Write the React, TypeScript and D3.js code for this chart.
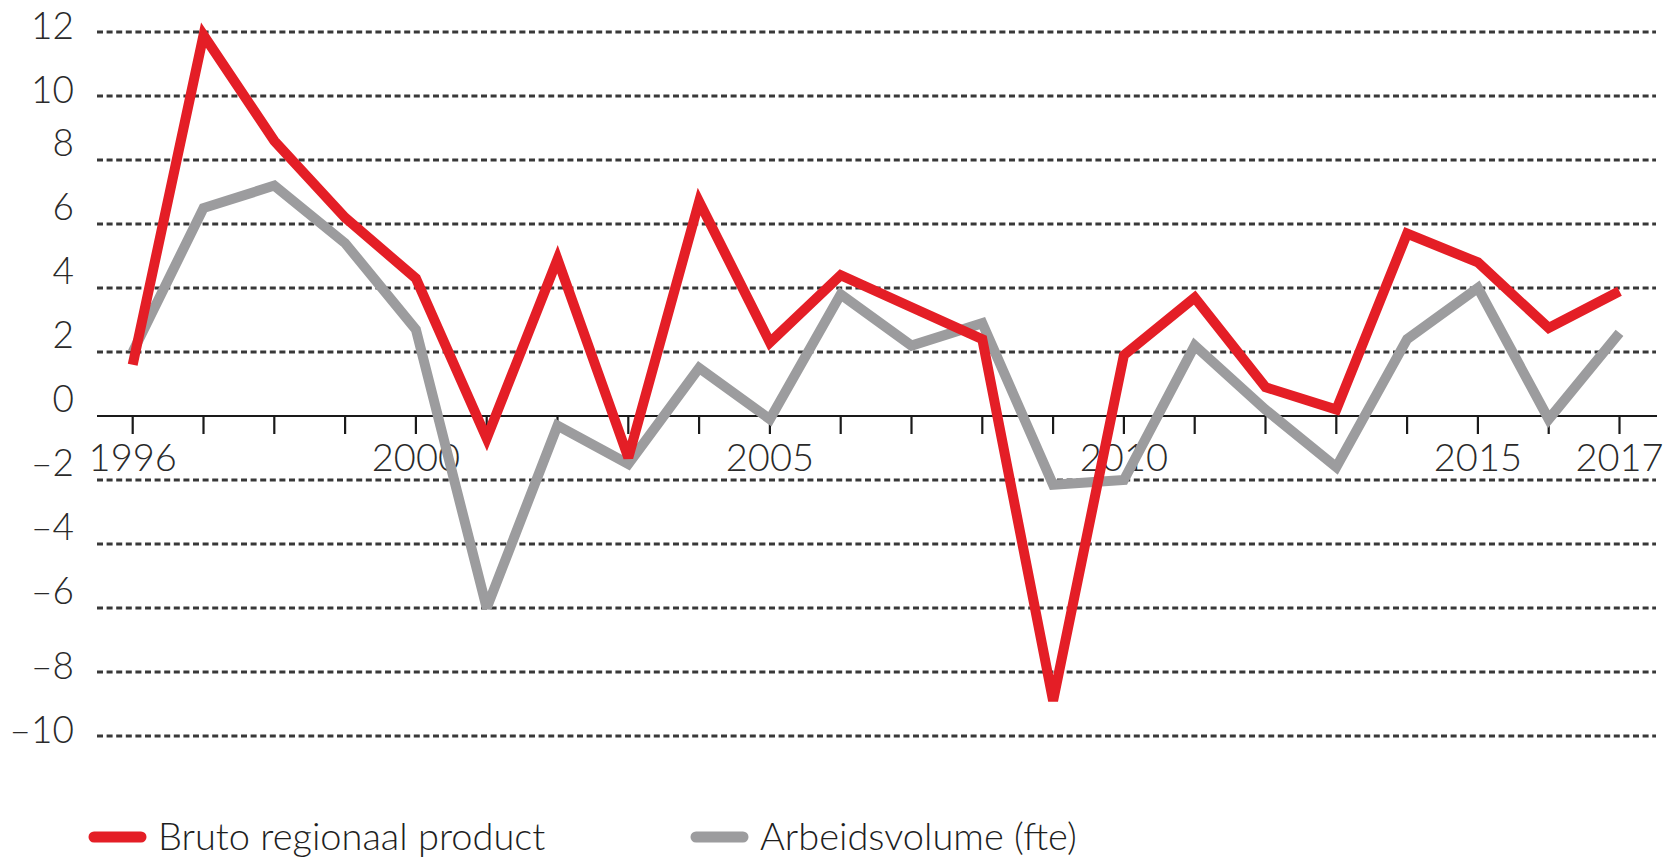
import React, { useEffect, useRef } from 'react';
import * as d3 from 'd3';

const years = [1996, 1997, 1998, 1999, 2000, 2001, 2002, 2003, 2004, 2005, 2006, 2007, 2008, 2009, 2010, 2011, 2012, 2013, 2014, 2015, 2016, 2017];
const brutoRegionaalProduct = [1.6, 11.9, 8.6, 6.2, 4.3, -0.7, 4.9, -1.3, 6.7, 2.3, 4.4, 3.4, 2.4, -8.9, 1.9, 3.7, 0.9, 0.2, 5.7, 4.8, 2.75, 3.9];
const arbeidsvolume = [2.0, 6.5, 7.2, 5.4, 2.7, -6.0, -0.3, -1.5, 1.5, -0.1, 3.8, 2.2, 2.9, -2.15, -2.0, 2.2, 0.2, -1.6, 2.4, 4.0, -0.1, 2.6];
const yTicks = [12, 10, 8, 6, 4, 2, 0, -2, -4, -6, -8, -10];
const xLabels = [1996, 2000, 2005, 2010, 2015, 2017];
const seriesNames = ['Bruto regionaal product', 'Arbeidsvolume (fte)'];

const RED = '#e41e26';
const GREY = '#9c9c9e';
const FONT = 'Lato, "Open Sans", sans-serif';

const App: React.FC = () => {
  const svgRef = useRef<SVGSVGElement>(null);

  useEffect(() => {
    if (!svgRef.current) return;
    const svg = d3.select(svgRef.current);
    svg.selectAll('*').remove();

    const x = d3.scaleLinear().domain([1996, 2017]).range([132.7, 1619.5]);
    const y = d3.scaleLinear().domain([-10, 12]).range([736, 32]);

    // dotted gridlines (zero is drawn as the axis)
    svg.append('g')
      .selectAll('line')
      .data(yTicks.filter(d => d !== 0))
      .enter()
      .append('line')
      .attr('x1', 97)
      .attr('x2', 1656)
      .attr('y1', d => y(d))
      .attr('y2', d => y(d))
      .attr('stroke', '#383838')
      .attr('stroke-width', 3)
      .attr('stroke-dasharray', '6 3.6');

    // y labels
    svg.append('g')
      .selectAll('text')
      .data(yTicks)
      .enter()
      .append('text')
      .attr('x', 74)
      .attr('y', d => y(d) - (d === 12 || d === 10 || d === -8 || d === -10 ? 2 : 13))
      .attr('text-anchor', 'end')
      .attr('dominant-baseline', 'middle')
      .style('font-family', FONT)
      .style('font-size', '37px')
      .style('font-weight', 300)
      .attr('fill', '#2a2a2a')
      .text(d => (d < 0 ? '\u2013' + Math.abs(d) : String(d)));

    // x axis at zero with ticks
    svg.append('line')
      .attr('x1', 97)
      .attr('x2', 1657)
      .attr('y1', y(0))
      .attr('y2', y(0))
      .attr('stroke', '#1a1a1a')
      .attr('stroke-width', 2.2);

    svg.append('g')
      .selectAll('line')
      .data(years)
      .enter()
      .append('line')
      .attr('x1', d => x(d))
      .attr('x2', d => x(d))
      .attr('y1', y(0))
      .attr('y2', y(0) + 18)
      .attr('stroke', '#1a1a1a')
      .attr('stroke-width', 2.2);

    svg.append('g')
      .selectAll('text')
      .data(xLabels)
      .enter()
      .append('text')
      .attr('x', d => x(d))
      .attr('y', 471)
      .attr('text-anchor', 'middle')
      .style('font-family', FONT)
      .style('font-size', '38px')
      .style('font-weight', 300)
      .attr('fill', '#2a2a2a')
      .text(d => String(d));

    // series
    const line = d3.line<number>()
      .x((_, i) => x(years[i]))
      .y(d => y(d));

    svg.append('path')
      .datum(arbeidsvolume)
      .attr('d', line)
      .attr('fill', 'none')
      .attr('stroke', GREY)
      .attr('stroke-width', 10)
      .attr('stroke-linejoin', 'miter')
      .attr('stroke-miterlimit', 3);

    svg.append('path')
      .datum(brutoRegionaalProduct)
      .attr('d', line)
      .attr('fill', 'none')
      .attr('stroke', RED)
      .attr('stroke-width', 10)
      .attr('stroke-linejoin', 'miter')
      .attr('stroke-miterlimit', 3);

    // legend
    const legend = [
      { name: seriesNames[0], color: RED, x0: 94 },
      { name: seriesNames[1], color: GREY, x0: 696 },
    ];
    const lg = svg.append('g');
    legend.forEach(l => {
      lg.append('line')
        .attr('x1', l.x0)
        .attr('x2', l.x0 + 47)
        .attr('y1', 837)
        .attr('y2', 837)
        .attr('stroke', l.color)
        .attr('stroke-width', 11)
        .attr('stroke-linecap', 'round');
      lg.append('text')
        .attr('x', l.x0 + 64)
        .attr('y', 850)
        .style('font-family', FONT)
        .style('font-size', '38px')
        .style('font-weight', 300)
        .attr('fill', '#1e1e1e')
        .text(l.name);
    });
  }, []);

  return (
    <svg
      ref={svgRef}
      width={1664}
      height={862}
      style={{ position: 'absolute', left: 0, top: 0, background: '#fff' }}
    />
  );
};

export default App;
